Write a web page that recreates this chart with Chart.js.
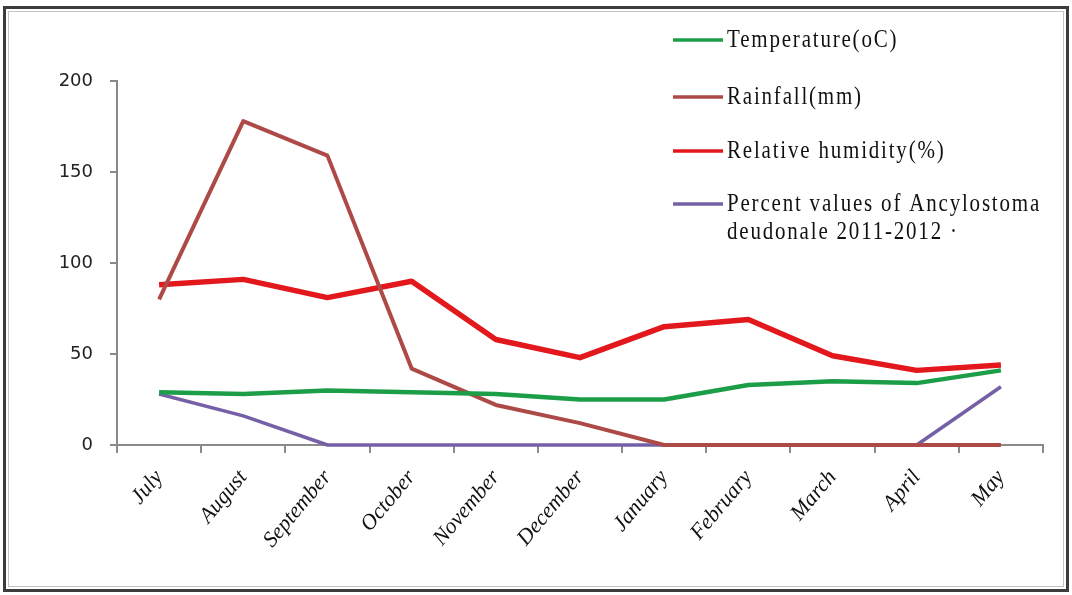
<!DOCTYPE html>
<html>
<head>
<meta charset="utf-8">
<script src="https://cdn.jsdelivr.net/npm/chart.js@4/dist/chart.umd.min.js"></script>
<style>
    body { margin: 0; background: #fff; }
    #wrap { position: absolute; left: 0; top: 0; width: 1072px; height: 595px; }
    #frame {
        position: absolute; left: 3px; top: 6px; width: 1066px; height: 586px;
        box-sizing: border-box; border: 3px solid #3c3c3c;
        box-shadow: inset 0 0 0 2px #fff, inset 0 0 0 3px #c4c4c4;
        pointer-events: none;
    }
</style>
</head>
<body>
<div id="wrap">
    <canvas id="climatePlot" width="1072" height="595"></canvas>
</div>
<div id="frame"></div>
<script>
var months = ['July', 'August', 'September', 'October', 'November', 'December',
              'January', 'February', 'March', 'April', 'May'];

var temperature = [29, 28, 30, 29, 28, 25, 25, 33, 35, 34, 41];
var rainfall    = [80, 178, 159, 42, 22, 12, 0, 0, 0, 0, 0];
var humidity    = [88, 91, 81, 90, 58, 48, 65, 69, 49, 41, 44];
var ancylostoma = [28, 16, 0, 0, 0, 0, 0, 0, 0, 0, 32];

var yTicks = [0, 50, 100, 150, 200];

var seriesLabels = [
    ['Temperature(oC)'],
    ['Rainfall(mm)'],
    ['Relative humidity(%)'],
    ['Percent values of Ancylostoma', 'deudonale 2011-2012 \u00b7']
];
var seriesColors = ['#1b9e47', '#ad4a47', '#e2181d', '#7560a6'];

// legend sits on top of the plot in the upper right, drawn by hand
var sideLegend = {
    id: 'sideLegend',
    afterDatasetsDraw: function(chart) {
        var ctx = chart.ctx;
        var rows = [40, 97, 151, 204];
        var stretch = 1.2;
        chart.data.datasets.forEach(function(ds, i) {
            ctx.save();
            ctx.strokeStyle = ds.borderColor;
            ctx.lineWidth = 3.5;
            ctx.beginPath();
            ctx.moveTo(673, rows[i]);
            ctx.lineTo(723, rows[i]);
            ctx.stroke();

            ctx.font = '21px "Liberation Serif"';
            ctx.fillStyle = '#111';
            ctx.textBaseline = 'middle';
            if ('letterSpacing' in ctx)
                ctx.letterSpacing = '1.8px';
            ctx.scale(1, stretch);
            var lines = seriesLabels[i];
            for (var k = 0; k < lines.length; k++)
                ctx.fillText(lines[k], 727, (rows[i] + k * 28) / stretch);
            ctx.restore();
        });
    }
};

new Chart(document.getElementById('climatePlot'), {
    type: 'line',
    data: {
        labels: months,
        datasets: [{
            label: seriesLabels[0].join(' '),
            data: temperature,
            borderColor: seriesColors[0],
            borderWidth: 4.5
        }, {
            label: seriesLabels[1].join(' '),
            data: rainfall,
            borderColor: seriesColors[1],
            borderWidth: 4
        }, {
            label: seriesLabels[2].join(' '),
            data: humidity,
            borderColor: seriesColors[2],
            borderWidth: 5.5
        }, {
            label: seriesLabels[3].join(' '),
            data: ancylostoma,
            borderColor: seriesColors[3],
            borderWidth: 3.5
        }]
    },
    options: {
        responsive: false,
        animation: false,
        devicePixelRatio: 1,
        layout: { padding: { left: 0, right: 29, top: 81, bottom: 0 } },
        elements: {
            point: { radius: 0 },
            line: { tension: 0, fill: false, borderJoinStyle: 'round' }
        },
        datasets: { line: { clip: false } },
        plugins: {
            legend: { display: false },
            tooltip: { enabled: false }
        },
        scales: {
            x: {
                offset: true,
                afterFit: function(scale) { scale.height = 150; },
                border: { display: true, color: '#8a8a8a', width: 2 },
                grid: { offset: true, drawOnChartArea: false, drawTicks: true, tickLength: 8, color: '#8a8a8a', lineWidth: 2 },
                ticks: {
                    minRotation: 50,
                    maxRotation: 50,
                    padding: 12,
                    color: '#111',
                    font: { family: 'Liberation Serif', style: 'italic', size: 22 }
                }
            },
            y: {
                min: 0,
                max: 200,
                afterFit: function(scale) { scale.width = 117; },
                afterBuildTicks: function(scale) {
                    scale.ticks = yTicks.map(function(v) { return { value: v }; });
                },
                border: { display: true, color: '#8a8a8a', width: 2 },
                grid: { drawOnChartArea: false, drawTicks: true, tickLength: 7, color: '#8a8a8a', lineWidth: 2 },
                ticks: {
                    padding: 17,
                    color: '#222',
                    font: { family: 'DejaVu Sans', size: 18 }
                }
            }
        }
    },
    plugins: [sideLegend]
});
</script>
</body>
</html>
